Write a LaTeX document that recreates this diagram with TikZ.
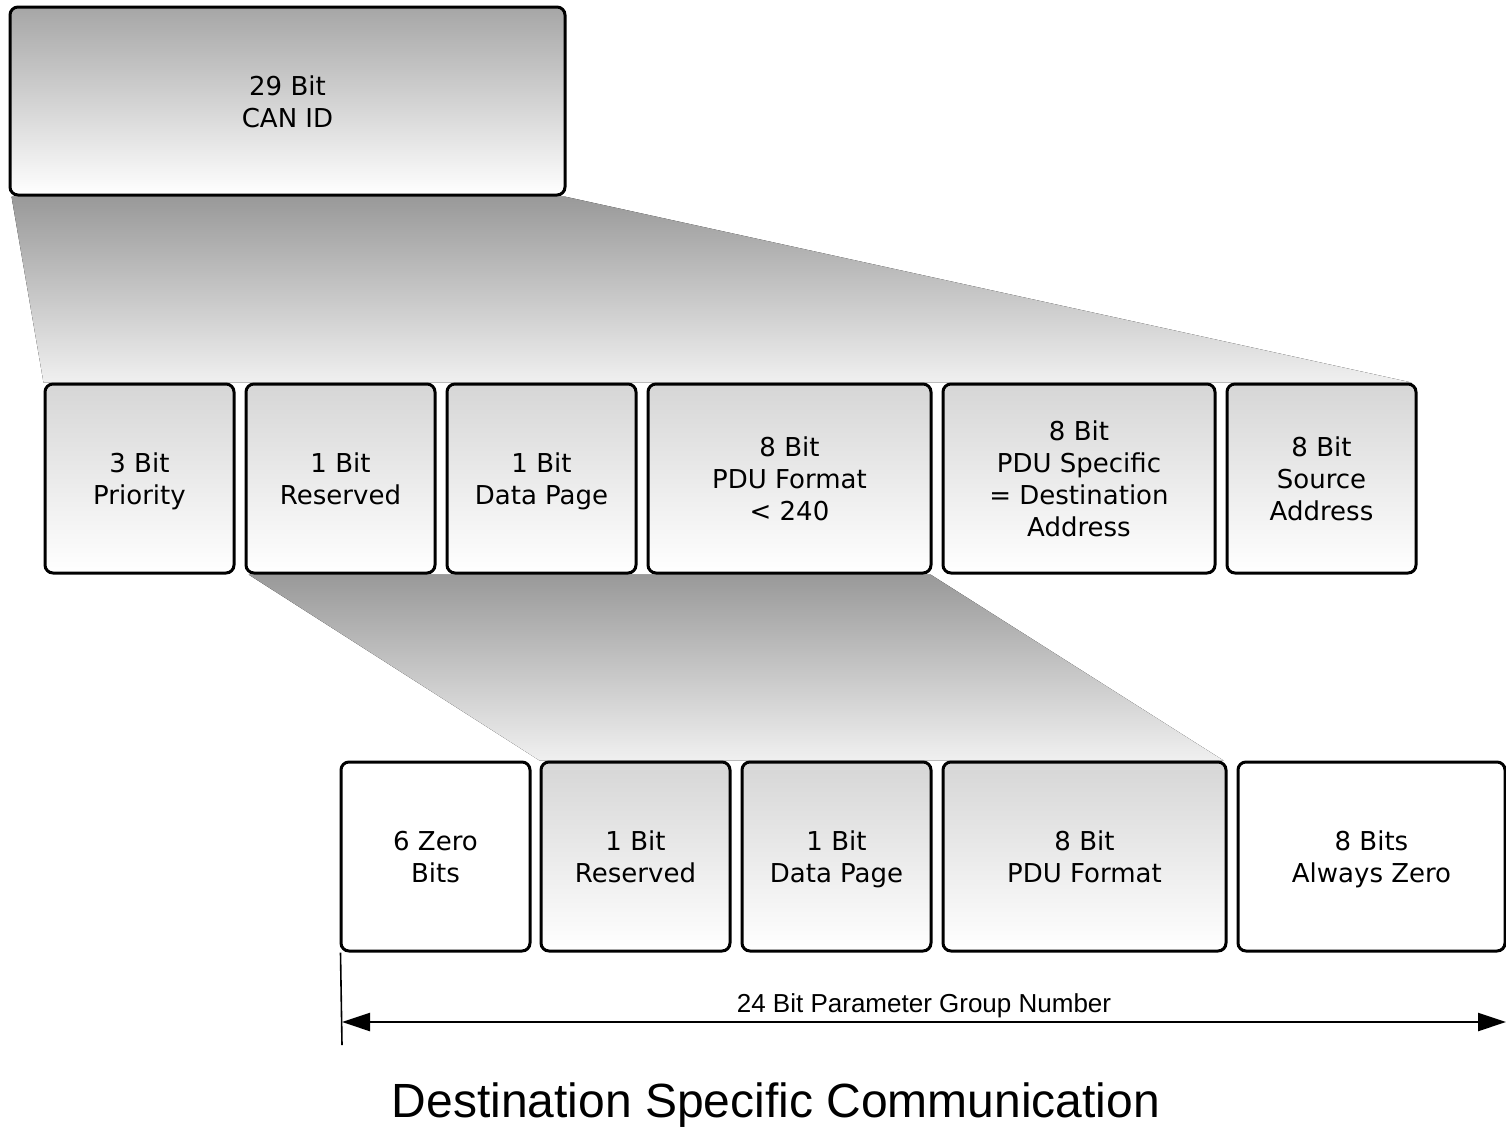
\documentclass[tikz,border=0pt]{standalone}
\usepackage{fontspec}
\newfontfamily\boxfont{DejaVu Sans}
\newfontfamily\labelfont{Liberation Sans}
\usetikzlibrary{arrows.meta,backgrounds,calc}

\definecolor{fandark}{HTML}{999999}
\definecolor{fanlight}{HTML}{F0F0F0}
\definecolor{idtop}{HTML}{A6A6A6}
\definecolor{fieldtop}{HTML}{D6D6D6}

% centred lines of a field, set slightly below the geometric middle
\newcommand\fieldlines[1]{\raisebox{-2pt}[\height][\depth]{%
  \begin{tabular}{@{}c@{}}#1\end{tabular}}}

\tikzset{
  field/.style={draw=black, line width=1.5pt, rounded corners=4pt,
    inner sep=0pt, minimum height=94.5pt,
    font=\boxfont\fontsize{13pt}{16pt}\selectfont},
  shadedfield/.style={field, top color=fieldtop, bottom color=white},
  plainfield/.style={field, fill=white},
  fan/.style={top color=fandark, bottom color=fanlight},
  dimline/.style={line width=0.8pt},
  dimarrow/.style={line width=1.2pt, {Triangle[length=14pt,width=9pt]}-{Triangle[length=14pt,width=9pt]}}
}

\begin{document}
\begin{tikzpicture}[x=0.5pt,y=-0.5pt]
  \useasboundingbox (0,0) rectangle (1506,1126);

  % the complete identifier
  \node[field, top color=idtop, bottom color=white, minimum width=277.5pt, minimum height=94pt]
    (canid) at (287.5,101) {\fieldlines{29 Bit\\CAN ID}};

  % fields of the 29 bit identifier
  \node[shadedfield, minimum width=94.5pt]  (pri) at (139.5,478.5) {\fieldlines{3 Bit\\Priority}};
  \node[shadedfield, minimum width=94.5pt]  (rsv) at (340.5,478.5) {\fieldlines{1 Bit\\Reserved}};
  \node[shadedfield, minimum width=94.5pt]  (dp)  at (541.5,478.5) {\fieldlines{1 Bit\\Data Page}};
  \node[shadedfield, minimum width=141.5pt] (pf)  at (789.5,478.5) {\fieldlines{8 Bit\\PDU Format\\< 240}};
  \node[shadedfield, minimum width=136pt]   (ps)  at (1079,478.5)  {\fieldlines{8 Bit\\PDU Specific\\= Destination\\Address}};
  \node[shadedfield, minimum width=94.5pt]  (sa)  at (1321.5,478.5) {\fieldlines{8 Bit\\Source\\Address}};

  % fields of the parameter group number
  \node[plainfield,  minimum width=94.5pt]  (zero) at (435.5,856.5) {\fieldlines{6 Zero\\Bits}};
  \node[shadedfield, minimum width=94.5pt]  (rsv2) at (635.5,856.5) {\fieldlines{1 Bit\\Reserved}};
  \node[shadedfield, minimum width=94.5pt]  (dp2)  at (836.5,856.5) {\fieldlines{1 Bit\\Data Page}};
  \node[shadedfield, minimum width=141.5pt] (pf2)  at (1084.5,856.5) {\fieldlines{8 Bit\\PDU Format}};
  \node[plainfield,  minimum width=133.5pt] (ps2)  at (1371.5,856.5) {\fieldlines{8 Bits\\Always Zero}};

  % expansion fans behind the boxes
  \begin{scope}[on background layer]
    \fill[fan] ($(canid.south west)+(3,0)$) -- ($(canid.south east)+(-2,0)$)
      -- ($(sa.north east)+(-6,0)$) -- (pri.north west) -- cycle;
    \fill[fan] ($(rsv.south west)+(4,0)$) -- ($(pf.south east)+(-2,0)$)
      -- ($(pf2.north east)+(-4,0)$) -- (rsv2.north west) -- cycle;
  \end{scope}

  % dimension of the parameter group number
  \coordinate (dimtop) at (zero.south west);
  \coordinate (dimfoot) at (342,1045);
  \coordinate (dimL) at (342,1022);
  \coordinate (dimR) at (1506,1022);
  \draw[dimline] ($(dimtop)+(1,0)$) -- (dimfoot);
  \draw[dimarrow] (dimL) -- (dimR);
  \node[font=\labelfont\fontsize{13pt}{15pt}\selectfont] (pgn) at (924,1006)
    {24 Bit Parameter Group Number};

  % caption
  \node[font=\labelfont\fontsize{24pt}{28pt}\selectfont] (caption) at (776,1105)
    {Destination Specific Communication};
\end{tikzpicture}
\end{document}
